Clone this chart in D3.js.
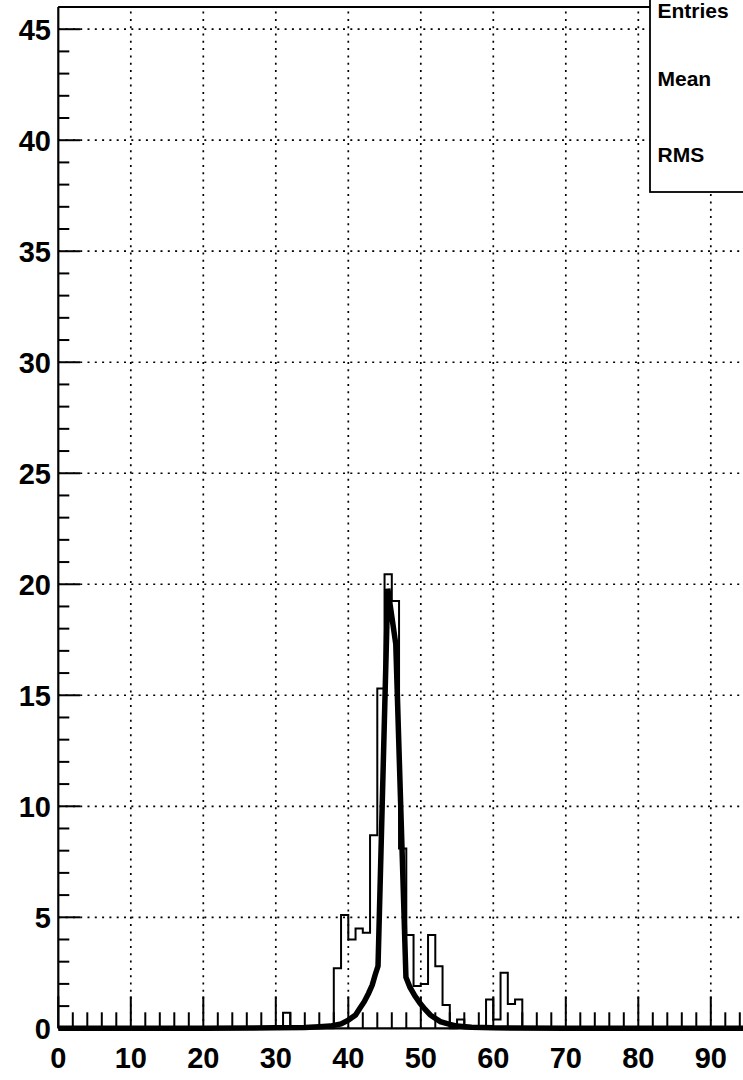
<!DOCTYPE html>
<html>
<head>
<meta charset="utf-8">
<script src="https://cdn.jsdelivr.net/npm/d3@7/dist/d3.min.js"></script>
<style>
  html, body { margin: 0; padding: 0; background: #fff; }
  svg { display: block; }
  text { font-family: "Liberation Sans", Arial, sans-serif; font-weight: bold; fill: #000; }
</style>
</head>
<body>
<svg id="chart" width="743" height="1080"></svg>
<script>
// ---- data ----
const binStart = [31, 38, 39, 40, 41, 42, 43, 44, 45, 46, 47, 48, 49, 50, 51, 52, 53, 55, 59, 60, 61, 62, 63];
const binCount = [0.7, 2.7, 5.1, 4.0, 4.5, 4.3, 8.7, 15.3, 20.45, 19.25, 8.1, 4.2, 1.9, 2.0, 4.2, 2.8, 1.05, 0.4, 1.3, 0.4, 2.5, 1.1, 1.3];
const fitX = [0, 20, 30, 34, 36, 37.5, 39, 40, 41, 41.6, 42.2, 42.8, 43.3, 43.7, 44.1, 45.45, 46.55, 47.95, 48.5, 49.2, 49.9, 50.6, 51.3, 52.7, 54, 55, 57, 60, 70, 100];
const fitY = [0, 0.005, 0.02, 0.04, 0.07, 0.1, 0.2, 0.37, 0.6, 0.9, 1.2, 1.58, 1.95, 2.4, 2.8, 19.8, 17.3, 2.3, 1.85, 1.45, 1.13, 0.85, 0.6, 0.3, 0.18, 0.1, 0.05, 0.02, 0.005, 0];
const xTicks = [0, 10, 20, 30, 40, 50, 60, 70, 80, 90];
const yTicks = [0, 5, 10, 15, 20, 25, 30, 35, 40, 45];
const statLabels = ["Entries", "Mean", "RMS"];

const svg = d3.select("#chart");
const x = d3.scaleLinear().domain([0, 100]).range([58.3, 783.3]);
const y = d3.scaleLinear().domain([0, 46]).range([1028.3, 7]);

// full histogram table
const nBins = 100;
const counts = new Array(nBins).fill(0);
binStart.forEach((b, i) => { counts[b] = binCount[i]; });
const histPts = counts.map((c, i) => [i, c]);
histPts.push([nBins, counts[nBins - 1]]);

// grid
const g = svg.append("g");
const gridX = d3.range(10, 101, 10);
g.selectAll(".gx").data(gridX).enter().append("line")
  .attr("x1", d => x(d)).attr("x2", d => x(d))
  .attr("y1", y(0)).attr("y2", y(46))
  .attr("stroke", "#000").attr("stroke-width", 1.7).attr("stroke-dasharray", "2,5.3");
g.selectAll(".gy").data(yTicks.filter(v => v > 0)).enter().append("line")
  .attr("x1", x(0)).attr("x2", x(100))
  .attr("y1", d => y(d)).attr("y2", d => y(d))
  .attr("stroke", "#000").attr("stroke-width", 1.7).attr("stroke-dasharray", "2,5.3");

// histogram
svg.append("path")
  .attr("d", d3.line().x(d => x(d[0])).y(d => y(d[1])).curve(d3.curveStepAfter)(histPts))
  .attr("fill", "none").attr("stroke", "#000").attr("stroke-width", 2);

// axes frame
svg.append("line").attr("x1", x(0)).attr("x2", x(0)).attr("y1", y(0)).attr("y2", y(46))
  .attr("stroke", "#000").attr("stroke-width", 2.2);
svg.append("line").attr("x1", x(0)).attr("x2", x(100)).attr("y1", y(46)).attr("y2", y(46))
  .attr("stroke", "#000").attr("stroke-width", 2.2);
svg.append("line").attr("x1", x(0)).attr("x2", x(100)).attr("y1", y(0)).attr("y2", y(0))
  .attr("stroke", "#000").attr("stroke-width", 2.2);

// x ticks (inside, upward)
const xMinor = d3.range(0, 101, 2);
svg.selectAll(".xt").data(xMinor).enter().append("line")
  .attr("x1", d => x(d)).attr("x2", d => x(d))
  .attr("y1", y(0)).attr("y2", d => y(0) - (d % 10 === 0 ? 32 : 16))
  .attr("stroke", "#000").attr("stroke-width", 2);
// y ticks (inside, rightward)
const yMinor = d3.range(0, 47, 1);
svg.selectAll(".yt").data(yMinor).enter().append("line")
  .attr("y1", d => y(d)).attr("y2", d => y(d))
  .attr("x1", x(0)).attr("x2", d => x(0) + (d % 5 === 0 ? 22 : 11))
  .attr("stroke", "#000").attr("stroke-width", 2);

// fit curve
svg.append("path")
  .attr("d", d3.line().x((d, i) => x(fitX[i])).y((d, i) => y(fitY[i]))(fitX))
  .attr("fill", "none").attr("stroke", "#000").attr("stroke-width", 5.5)
  .attr("stroke-linejoin", "miter").attr("stroke-miterlimit", 6);

// tick labels
svg.selectAll(".xl").data(xTicks).enter().append("text")
  .attr("x", d => x(d)).attr("y", 1068)
  .attr("text-anchor", "middle").attr("font-size", 29)
  .text(d => d);
svg.selectAll(".yl").data(yTicks).enter().append("text")
  .attr("x", 51).attr("y", d => y(d) + 11)
  .attr("text-anchor", "end").attr("font-size", 29)
  .text(d => d);

// stats box
const box = svg.append("g");
box.append("rect").attr("x", 650).attr("y", -60).attr("width", 200).attr("height", 252)
  .attr("fill", "#fff").attr("stroke", "#000").attr("stroke-width", 1.8);
const statY = [18, 86, 162];
box.selectAll("text").data(statLabels).enter().append("text")
  .attr("x", 657.5).attr("y", (d, i) => statY[i])
  .attr("font-size", 21).text(d => d);
</script>
</body>
</html>
